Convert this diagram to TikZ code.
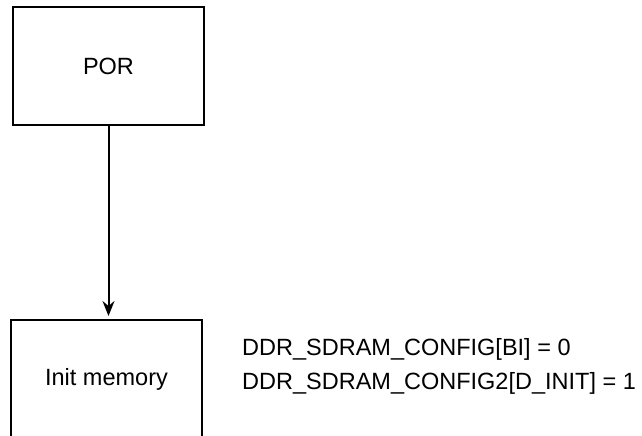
\documentclass[tikz,border=0pt]{standalone}
\usepackage{fontspec}
\setmainfont{Liberation Sans}
\usetikzlibrary{arrows.meta}
\begin{document}
\begin{tikzpicture}[x=1pt,y=-1pt,
  box/.style={draw=black, line width=2pt, fill=white, minimum width=191pt, minimum height=118pt, inner sep=0pt, font=\fontsize{23.5}{27}\selectfont},
  conn/.style={line width=2pt, -{Stealth[length=15pt,width=12pt,inset=5pt]}, shorten >=3pt}]
\useasboundingbox (0,0) rectangle (642,436);
\clip (0,0) rectangle (642,436);
\node[box] (por) at (108.5,66) {POR};
\node[box] (init) at (106.5,379) {};
\node[font=\fontsize{23.5}{27}\selectfont] (initlbl) at (init.center) {Init memory};
\node[anchor=west, align=left, inner sep=0pt, font=\fontsize{23.5}{34}\selectfont] (cfg) at (242,366) {DDR\_SDRAM\_CONFIG[BI] = 0\\DDR\_SDRAM\_CONFIG2[D\_INIT] = 1};
\draw[conn] (por.south) -- (por.south |- init.north);
\end{tikzpicture}
\end{document}
